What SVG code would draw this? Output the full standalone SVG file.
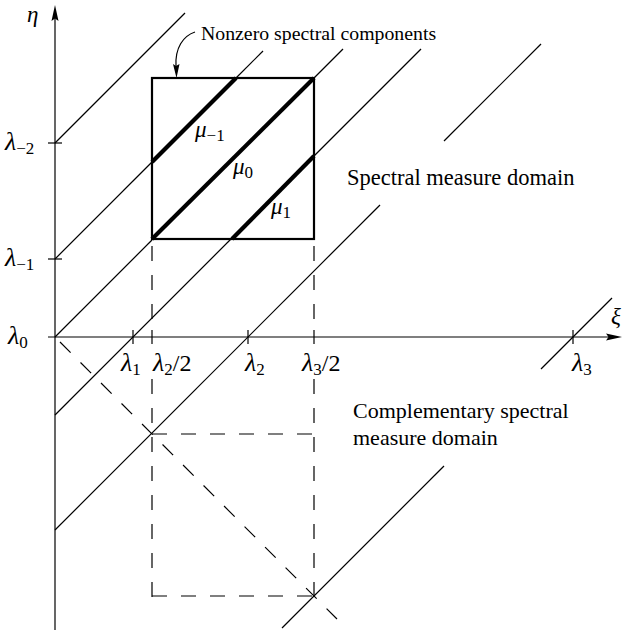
<svg xmlns="http://www.w3.org/2000/svg" width="622" height="630" viewBox="0 0 622 630">
<style>
.thin{stroke:#000;stroke-width:1.2;fill:none}
.sq{stroke:#000;stroke-width:2.2;fill:none}
.thick{stroke:#000;stroke-width:4.2;fill:none}
.dash{stroke:#000;stroke-width:1.2;fill:none;stroke-dasharray:15 14}
.t{font-family:"Liberation Serif","Times New Roman",serif;fill:#000}
.m{font-family:"Liberation Serif","Times New Roman",serif;font-style:italic;fill:#000;font-size:26px}
.mu{font-size:23px}
.s{font-style:normal;font-size:17px}
.n{font-style:normal;font-size:24px}
</style>
<rect width="622" height="630" fill="#fff"/>
<g id="axes">
<line class="thin" x1="55" y1="630" x2="55" y2="16"/>
<path d="M55,5 L58.5,21 L55,18.5 L51.5,21 Z" fill="#000"/>
<line class="thin" x1="48" y1="337" x2="610" y2="337"/>
<path d="M622,337 L606,340.5 L608.5,337 L606,333.5 Z" fill="#000"/>
<line class="thin" x1="48" y1="143" x2="62" y2="143"/>
<line class="thin" x1="48" y1="259" x2="62" y2="259"/>
<line class="thin" x1="133" y1="330" x2="133" y2="344"/>
<line class="thin" x1="152" y1="330" x2="152" y2="344"/>
<line class="thin" x1="248" y1="330" x2="248" y2="344"/>
<line class="thin" x1="314" y1="330" x2="314" y2="344"/>
<line class="thin" x1="573" y1="330" x2="573" y2="344"/>
</g>
<g id="connectors">
<line class="thin" x1="55" y1="143" x2="185" y2="13"/>
<line class="thin" x1="55" y1="259" x2="152" y2="162"/>
<line class="thin" x1="236" y1="78" x2="263" y2="51"/>
<line class="thin" x1="55" y1="337" x2="152" y2="240"/>
<line class="thin" x1="314" y1="78" x2="343" y2="49"/>
<line class="thin" x1="55" y1="415" x2="232" y2="238"/>
<line class="thin" x1="314" y1="156" x2="421" y2="49"/>
<line class="thin" x1="55" y1="530" x2="380" y2="205"/>
<line class="thin" x1="444" y1="141" x2="541" y2="44"/>
<line class="thin" x1="282" y1="628" x2="444" y2="466"/>
<line class="thin" x1="541" y1="369" x2="612" y2="298"/>
<line class="dash" x1="152" y1="246" x2="152" y2="330"/>
<line class="dash" x1="152" y1="379" x2="152" y2="597"/>
<line class="dash" x1="314" y1="246" x2="314" y2="330"/>
<line class="dash" x1="314" y1="379" x2="314" y2="597"/>
<line class="dash" x1="152" y1="434" x2="314" y2="434"/>
<line class="dash" x1="152" y1="596" x2="314" y2="596"/>
<line class="dash" x1="60" y1="342" x2="337" y2="619"/>
</g>
<g id="square">
<rect class="sq" x="152" y="78" width="162" height="161"/>
<line class="thick" x1="152" y1="162" x2="236" y2="78"/>
<line class="thick" x1="152" y1="239" x2="314" y2="78"/>
<line class="thick" x1="232" y1="239" x2="314" y2="156"/>
<text class="m mu" x="195" y="137">μ<tspan class="s" dy="4">−1</tspan></text>
<text class="m mu" x="233" y="174">μ<tspan class="s" dy="4">0</tspan></text>
<text class="m mu" x="271" y="214">μ<tspan class="s" dy="4">1</tspan></text>
</g>
<g id="callout">
<text class="t" x="201" y="40" font-size="19.8">Nonzero spectral components</text>
<path class="thin" d="M195,32 C183,36 175,48 176,66"/>
<path d="M176.5,78 L173,64 L176,66 L179.5,64 Z" fill="#000"/>
</g>
<g id="axis-labels">
<text class="m mu" x="27" y="22">η</text>
<text class="m mu" x="611" y="324">ξ</text>
<text class="m" x="5" y="150">λ<tspan class="s" dy="4">−2</tspan></text>
<text class="m" x="5" y="266">λ<tspan class="s" dy="4">−1</tspan></text>
<text class="m" x="8" y="344">λ<tspan class="s" dy="4">0</tspan></text>
<text class="m" x="121" y="371">λ<tspan class="s" dy="4">1</tspan></text>
<text class="m" x="153" y="371">λ<tspan class="s" dy="4">2</tspan><tspan class="n" dy="-4">/2</tspan></text>
<text class="m" x="245" y="371">λ<tspan class="s" dy="4">2</tspan></text>
<text class="m" x="302" y="371">λ<tspan class="s" dy="4">3</tspan><tspan class="n" dy="-4">/2</tspan></text>
<text class="m" x="572" y="371">λ<tspan class="s" dy="4">3</tspan></text>
</g>
<g id="domain-labels">
<text class="t" x="347" y="185" font-size="22.5">Spectral measure domain</text>
<text class="t" x="353" y="418" font-size="22">Complementary spectral</text>
<text class="t" x="353" y="445" font-size="22">measure domain</text>
</g>
</svg>
